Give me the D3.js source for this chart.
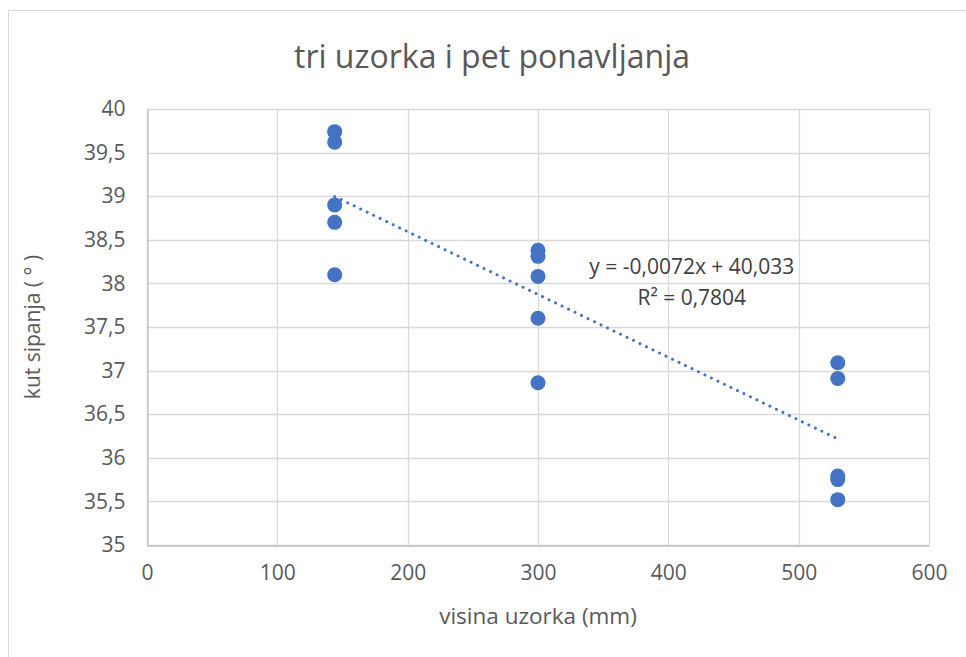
<!DOCTYPE html>
<html>
<head>
<meta charset="utf-8">
<script src="https://cdn.jsdelivr.net/npm/d3@7"></script>
<style>
  body { margin: 0; background: #fff; }
  text { font-family: 'Open Sans', sans-serif; }
</style>
</head>
<body>
<div id="chart"></div>
<script>
// visina uzorka (mm), five repeats each
const heights = [144, 144, 144, 144, 144, 300, 300, 300, 300, 300, 530, 530, 530, 530, 530]
const angles = [39.74, 39.62, 38.9, 38.7, 38.1, 38.38, 38.31, 38.08, 37.6, 36.86, 37.09, 36.91, 35.79, 35.75, 35.52]

// Excel linear trendline as printed on the chart
const trendSlope = -0.0072
const trendIntercept = 40.033
const trendRange = [144, 530]

const xTicks = [0, 100, 200, 300, 400, 500, 600]
const yTicks = [35, 35.5, 36, 36.5, 37, 37.5, 38, 38.5, 39, 39.5, 40]

const titleText = 'tri uzorka i pet ponavljanja'
const xLabel = 'visina uzorka (mm)'
const yLabel = 'kut sipanja ( ° )'
const eqText = 'y = -0,0072x + 40,033'
const r2Text = 'R² = 0,7804'

const W = 966
const H = 657
const margin = { top: 109, left: 147, right: 37, bottom: 112 }
const width = W - margin.left - margin.right
const height = H - margin.top - margin.bottom

const blue = '#4472C4'
const textColor = '#595959'

const locale = d3.formatLocale({ decimal: ',', thousands: '.', grouping: [3], currency: ['', ''] })
const fmt = locale.format('~g')

const svg = d3
  .select('#chart')
  .append('svg')
  .attr('width', W)
  .attr('height', H)

// chart frame
svg
  .append('rect')
  .attr('x', 8.5)
  .attr('y', 10.5)
  .attr('width', W)
  .attr('height', H)
  .attr('fill', '#fff')
  .attr('stroke', '#d9d9d9')

const g = svg
  .append('g')
  .attr('transform', 'translate(' + margin.left + ',' + margin.top + ')')

const x = d3.scaleLinear().domain([0, 600]).range([0, width])
const y = d3.scaleLinear().domain([35, 40]).range([height, 0])

// gridlines
g.append('g')
  .selectAll('line')
  .data(yTicks)
  .enter()
  .append('line')
  .attr('x1', 0)
  .attr('x2', width)
  .attr('y1', d => Math.round(y(d)) + 0.5)
  .attr('y2', d => Math.round(y(d)) + 0.5)
  .attr('stroke', '#d9d9d9')
  .attr('stroke-width', 1.3)

g.append('g')
  .selectAll('line')
  .data(xTicks)
  .enter()
  .append('line')
  .attr('y1', 0)
  .attr('y2', height)
  .attr('x1', d => Math.round(x(d)) + 0.5)
  .attr('x2', d => Math.round(x(d)) + 0.5)
  .attr('stroke', '#d9d9d9')
  .attr('stroke-width', 1.3)

// axes
const xAxis = g
  .append('g')
  .attr('transform', 'translate(0,' + (Math.round(height) + 0.5) + ')')
  .call(d3.axisBottom(x).tickValues(xTicks).tickFormat(fmt).tickSize(0).tickPadding(20))

const yAxis = g
  .append('g')
  .attr('transform', 'translate(0.5,0)')
  .call(d3.axisLeft(y).tickValues(yTicks).tickFormat(fmt).tickSize(0).tickPadding(22))

xAxis.select('.domain').attr('stroke', '#bfbfbf').attr('stroke-width', 1.3)
yAxis.select('.domain').attr('stroke', '#bfbfbf').attr('stroke-width', 1.3)

g.selectAll('.tick text')
  .attr('fill', textColor)
  .style('font-size', '21px')

// points
g.append('g')
  .selectAll('circle')
  .data(heights.map((h, i) => ({ h, a: angles[i] })))
  .enter()
  .append('circle')
  .attr('cx', d => x(d.h))
  .attr('cy', d => y(d.a))
  .attr('r', 7.5)
  .attr('fill', blue)

// trendline
g.append('line')
  .attr('x1', x(trendRange[0]))
  .attr('y1', y(trendSlope * trendRange[0] + trendIntercept))
  .attr('x2', x(trendRange[1]))
  .attr('y2', y(trendSlope * trendRange[1] + trendIntercept))
  .attr('stroke', blue)
  .attr('stroke-width', 3)
  .attr('stroke-linecap', 'round')
  .attr('stroke-dasharray', '0.01 7.2')

// equation
g.append('text')
  .attr('x', x(418))
  .attr('y', 267 - margin.top)
  .attr('dy', '0.35em')
  .attr('text-anchor', 'middle')
  .attr('fill', '#404040')
  .style('font-size', '21px')
  .text(eqText)

g.append('text')
  .attr('x', x(418))
  .attr('y', 298 - margin.top)
  .attr('dy', '0.35em')
  .attr('text-anchor', 'middle')
  .attr('fill', '#404040')
  .style('font-size', '21px')
  .text(r2Text)

// titles
svg
  .append('text')
  .attr('x', 492)
  .attr('y', 57)
  .attr('dy', '0.35em')
  .attr('text-anchor', 'middle')
  .attr('fill', textColor)
  .style('font-size', '32px')
  .text(titleText)

svg
  .append('text')
  .attr('x', margin.left + width / 2)
  .attr('y', 616)
  .attr('dy', '0.35em')
  .attr('text-anchor', 'middle')
  .attr('fill', textColor)
  .style('font-size', '22.5px')
  .text(xLabel)

svg
  .append('text')
  .attr('transform', 'translate(33,' + (margin.top + height / 2) + ') rotate(-90)')
  .attr('dy', '0.35em')
  .attr('text-anchor', 'middle')
  .attr('fill', textColor)
  .style('font-size', '21px')
  .text(yLabel)
</script>
</body>
</html>
